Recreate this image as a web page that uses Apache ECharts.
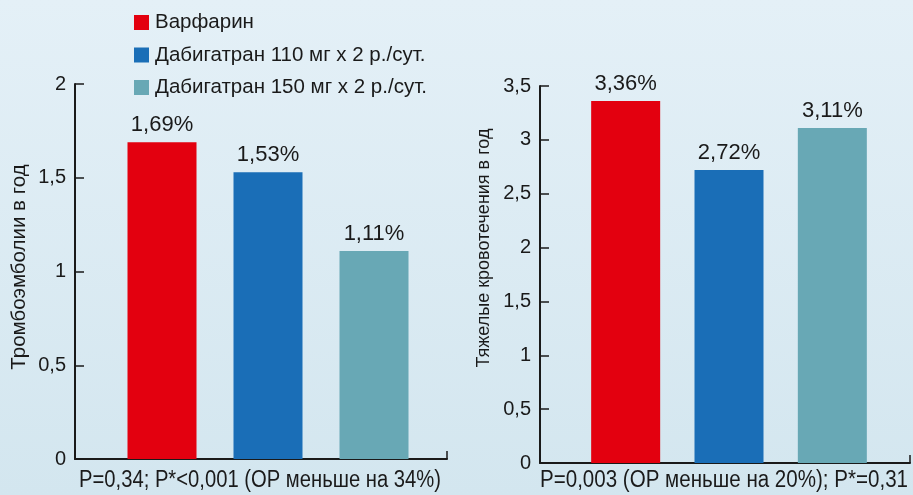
<!DOCTYPE html>
<html>
<head>
<meta charset="utf-8">
<script src="https://cdn.jsdelivr.net/npm/echarts@6/dist/echarts.min.js"></script>
<style>
  html, body { margin: 0; padding: 0; }
  #chart { width: 913px; height: 495px; }
</style>
</head>
<body>
<div id="chart"></div>
<script>
// Annual event rates by treatment arm
const groups = ['Варфарин', 'Дабигатран 110 мг х 2 р./сут.', 'Дабигатран 150 мг х 2 р./сут.'];
const colors = ['#e3000f', '#1a6eb7', '#68a8b5'];

const embolism = [1.69, 1.53, 1.11];   // Тромбоэмболии в год, %
const bleeding = [3.36, 2.72, 3.11];   // Тяжелые кровотечения в год, %

const embolismTitle = 'Тромбоэмболии в год';
const bleedingTitle = 'Тяжелые кровотечения в год';
const embolismNote = 'P=0,34; P*<0,001 (ОР меньше на 34%)';
const bleedingNote = 'P=0,003 (ОР меньше на 20%); P*=0,31';

const comma = v => String(v).replace('.', ',');
const ink = '#1a1a1a';
const baseFont = "'Liberation Sans', Arial, sans-serif";

// Narrow caption text: regular face squeezed horizontally to a set width.
const noteFont = '23px ' + baseFont;
function squeeze(text, width) {
  const ctx = document.createElement('canvas').getContext('2d');
  ctx.font = noteFont;
  return width / ctx.measureText(text).width;
}

// Frame grids carry the visible axes; bar grids hold the bars on the same vertical scale.
const grids = [
  { left: 75, top: 84, width: 372, height: 375 },   // frame, left
  { left: 109, top: 84, width: 318, height: 375 },  // bars, left
  { left: 540, top: 86, width: 370, height: 377 },  // frame, right
  { left: 574, top: 86, width: 310, height: 377 }   // bars, right
];

function frameY(gridIndex, max) {
  return {
    type: 'value', gridIndex, min: 0, max, interval: 0.5,
    axisLine: { show: true, lineStyle: { color: ink, width: 2 } },
    axisTick: { show: true, inside: true, length: 9, lineStyle: { color: ink, width: 1.5 } },
    axisLabel: { color: ink, fontSize: 20, fontFamily: baseFont, margin: 9, formatter: comma },
    splitLine: { show: false }
  };
}
function frameX(gridIndex) {
  return {
    type: 'value', gridIndex, min: 0, max: 1, interval: 1,
    axisLine: { show: true, onZero: false, lineStyle: { color: ink, width: 2 } },
    axisTick: { show: true, inside: true, length: 8, lineStyle: { color: ink, width: 1.5 } },
    axisLabel: { show: false }, splitLine: { show: false }
  };
}
function barY(gridIndex, max) {
  return { type: 'value', gridIndex, min: 0, max, show: false, splitLine: { show: false } };
}
function barX(gridIndex) {
  return { type: 'category', gridIndex, data: groups, show: false };
}

function seriesFor(values, axisIndex) {
  return groups.map((name, i) => ({
    name, type: 'bar',
    xAxisIndex: axisIndex, yAxisIndex: axisIndex,
    barWidth: 69, barGap: '-100%',
    itemStyle: { color: colors[i] },
    label: {
      show: true, position: 'top', distance: 6,
      color: ink, fontSize: 22, fontFamily: baseFont,
      formatter: p => comma(p.value) + '%'
    },
    data: values.map((v, j) => (j === i ? v : '-')),
    silent: true, animation: false
  }));
}

const chart = echarts.init(document.getElementById('chart'));
chart.setOption({
  animation: false,
  backgroundColor: {
    type: 'linear', x: 0, y: 0, x2: 0, y2: 1,
    colorStops: [{ offset: 0, color: '#e4f0f7' }, { offset: 1, color: '#d3e6ef' }]
  },
  legend: {
    orient: 'vertical', left: 129, top: 7,
    itemWidth: 15, itemHeight: 15, itemGap: 11.5,
    icon: 'rect', selectedMode: false,
    textStyle: { color: ink, fontSize: 20.5, fontFamily: baseFont, padding: [0, 0, 0, 1] },
    data: groups
  },
  grid: grids,
  xAxis: [frameX(0), barX(1), frameX(2), barX(3)],
  yAxis: [frameY(0, 2), barY(1, 2), frameY(2, 3.5), barY(3, 3.5)],
  series: [...seriesFor(embolism, 1), ...seriesFor(bleeding, 3)],
  graphic: [
    { type: 'text', x: 19, y: 267, rotation: Math.PI / 2,
      style: { text: embolismTitle, fill: ink, font: '20.5px ' + baseFont, textAlign: 'center', textVerticalAlign: 'middle' } },
    { type: 'text', x: 484, y: 248, rotation: Math.PI / 2,
      style: { text: bleedingTitle, fill: ink, font: '18px ' + baseFont, textAlign: 'center', textVerticalAlign: 'middle' } },
    { type: 'text', x: 260, y: 481, scaleX: squeeze(embolismNote, 362),
      style: { text: embolismNote, fill: ink, font: noteFont, textAlign: 'center', textVerticalAlign: 'middle' } },
    { type: 'text', x: 724, y: 481, scaleX: squeeze(bleedingNote, 368),
      style: { text: bleedingNote, fill: ink, font: noteFont, textAlign: 'center', textVerticalAlign: 'middle' } }
  ]
});
</script>
</body>
</html>
